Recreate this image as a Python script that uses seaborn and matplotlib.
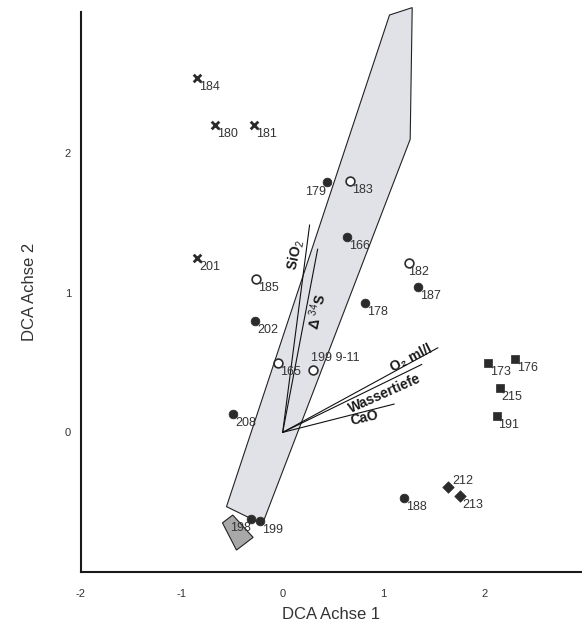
import matplotlib
matplotlib.use("Agg")
import matplotlib.pyplot as plt
import seaborn as sns
import pandas as pd

# ---------------- data ----------------
cross_ids = ["184", "180", "181", "201"]
cross_x = [-0.85, -0.67, -0.28, -0.85]
cross_y = [2.54, 2.20, 2.20, 1.25]

filled_ids = ["179", "166", "187", "178", "202", "208", "188", "198", "199"]
filled_x = [0.44, 0.64, 1.34, 0.82, -0.27, -0.49, 1.20, -0.31, -0.22]
filled_y = [1.79, 1.40, 1.04, 0.93, 0.80, 0.13, -0.47, -0.62, -0.635]

open_ids = ["183", "182", "185", "165", "199 9-11"]
open_x = [0.67, 1.25, -0.26, -0.05, 0.30]
open_y = [1.80, 1.21, 1.10, 0.50, 0.45]

square_ids = ["173", "176", "215", "191"]
square_x = [2.04, 2.30, 2.15, 2.12]
square_y = [0.50, 0.525, 0.32, 0.12]

diamond_ids = ["212", "213"]
diamond_x = [1.64, 1.76]
diamond_y = [-0.39, -0.455]

vector_names = ["SiO$_2$", "Δ $^{34}$S", "O₂ ml/l", "Wassertiefe", "CaO"]
vector_x = [0.267, 0.347, 1.539, 1.380, 1.106]
vector_y = [1.486, 1.313, 0.606, 0.487, 0.203]

hull_x = [1.059, 1.284, 1.264, -0.201, -0.557]
hull_y = [2.989, 3.042, 2.099, -0.657, -0.532]

small_hull_x = [-0.597, -0.495, -0.293, -0.458]
small_hull_y = [-0.648, -0.592, -0.752, -0.843]

x_ticks = [-2, -1, 0, 1, 2]
y_ticks = [-1, 0, 1, 2]
y_tick_labels = ["", "0", "1", "2"]

# ---------------- style ----------------
sns.set_style("white")
plt.rcParams["font.family"] = ["Liberation Sans", "DejaVu Sans"]
plt.rcParams["mathtext.fontset"] = "custom"
plt.rcParams["mathtext.rm"] = "Liberation Sans"
plt.rcParams["mathtext.it"] = "Liberation Sans:italic"
plt.rcParams["mathtext.bf"] = "Liberation Sans:bold"

dark = "#2b2b2b"
txt = "#333333"

fig = plt.figure(figsize=(5.82, 6.29), dpi=100)
ax = fig.add_axes([0.139, 0.0906, 0.861, 0.8904])

# hulls
ax.fill(hull_x, hull_y, facecolor="#e1e2e7", edgecolor="#222222", lw=0.8, zorder=1, clip_on=False)
ax.fill(small_hull_x, small_hull_y, facecolor="#a8a8a8", edgecolor="#222222", lw=0.8, zorder=1)

# vectors
for vx, vy in zip(vector_x, vector_y):
    ax.plot([0, vx], [0, vy], color="#111111", lw=0.8, zorder=2)

# points
df_cross = pd.DataFrame({"x": cross_x, "y": cross_y})
df_filled = pd.DataFrame({"x": filled_x, "y": filled_y})
df_open = pd.DataFrame({"x": open_x, "y": open_y})
df_sq = pd.DataFrame({"x": square_x, "y": square_y})
df_dia = pd.DataFrame({"x": diamond_x, "y": diamond_y})

sns.scatterplot(data=df_cross, x="x", y="y", marker="x", s=30, color=dark, linewidth=2, ax=ax, zorder=3)
sns.scatterplot(data=df_filled, x="x", y="y", marker="o", s=40, color=dark, edgecolor=dark, linewidth=0.5, ax=ax, zorder=3)
sns.scatterplot(data=df_open, x="x", y="y", marker="o", s=40, facecolor="white", edgecolor=dark, linewidth=1.2, ax=ax, zorder=3)
sns.scatterplot(data=df_sq, x="x", y="y", marker="s", s=34, color=dark, edgecolor=dark, linewidth=0.5, ax=ax, zorder=3)
sns.scatterplot(data=df_dia, x="x", y="y", marker="D", s=34, color=dark, edgecolor=dark, linewidth=0.5, ax=ax, zorder=3)

# point labels (offsets in pixels)
special = {
    "179": (-1, -4, "right", "top"),
    "198": (0, -3, "right", "top"),
    "199 9-11": (-2, 6, "left", "bottom"),
    "212": (4, 0, "left", "bottom"),
    "182": (-1, -3, "left", "top"),
}
all_ids = cross_ids + filled_ids + open_ids + square_ids + diamond_ids
all_x = cross_x + filled_x + open_x + square_x + diamond_x
all_y = cross_y + filled_y + open_y + square_y + diamond_y
for lab, px, py in zip(all_ids, all_x, all_y):
    dx, dy, ha, va = special.get(lab, (2, -3, "left", "top"))
    ax.annotate(lab, (px, py), xytext=(dx, dy), textcoords="offset pixels",
                ha=ha, va=va, fontsize=9, color=txt, zorder=4)

# vector labels
vlab_pos = [(0.126, 1.27, 78), (0.334, 0.869, 78), (1.276, 0.533, 27), (1.017, 0.275, 24), (0.809, 0.102, 13)]
for name, (lx, ly, rot) in zip(vector_names, vlab_pos):
    ax.text(lx, ly, name, rotation=rot, rotation_mode="anchor", ha="center", va="center",
            fontsize=10, fontweight="bold", color="#1a1a1a", zorder=4)

# axes
ax.set_xlim(-2.0, 2.967)
ax.set_ylim(-1.0, 3.011)
for s in ["top", "right"]:
    ax.spines[s].set_visible(False)
for s in ["left", "bottom"]:
    ax.spines[s].set_color("#1a1a1a")
    ax.spines[s].set_linewidth(1.5)
ax.set_xticks(x_ticks)
ax.set_xticklabels([str(t) for t in x_ticks])
ax.set_yticks(y_ticks)
ax.set_yticklabels(y_tick_labels)
ax.tick_params(axis="both", direction="out", length=5, width=1.5, color="#1a1a1a",
               labelsize=8, labelcolor=txt)
ax.tick_params(axis="x", pad=7)
ax.tick_params(axis="y", pad=2)
ax.set_xlabel("DCA Achse 1", fontsize=12, color=txt, labelpad=6)
ax.set_ylabel("DCA Achse 2", fontsize=12, color=txt, labelpad=20)

fig.savefig("out.png", dpi=100)
